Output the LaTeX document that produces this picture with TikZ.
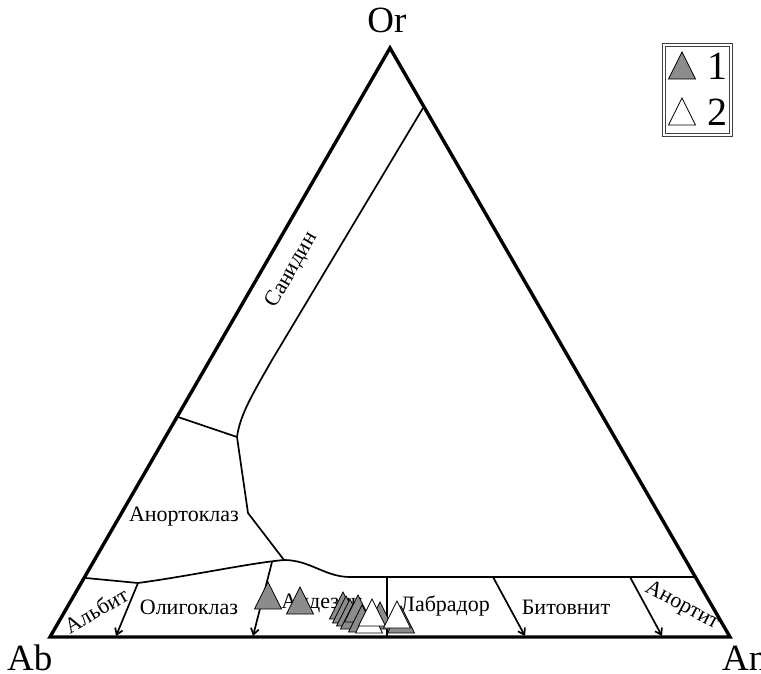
\documentclass[tikz,border=0pt]{standalone}
\usepackage{fontspec}
\setmainfont{Liberation Serif}
\usetikzlibrary{arrows.meta}
\definecolor{markgray}{gray}{0.55}

\begin{document}
\begin{tikzpicture}[x=1pt, y=-1pt, >={Straight Barb[length=6pt,width=8pt]},
                    outline/.style={line width=3.4pt, line join=miter},
                    border/.style={line width=1.7pt},
                    field/.style={font=\fontsize{22}{22}\selectfont, inner sep=0pt},
                    corner/.style={font=\fontsize{37}{37}\selectfont, inner sep=0pt},
                    digit/.style={font=\fontsize{40}{40}\selectfont, inner sep=0pt, anchor=base},
                    sample1/.pic={\draw[fill=markgray, line width=0.7pt] (-13.5,0) -- (0,-27) -- (13.5,0) -- cycle;},
                    sample2/.pic={\draw[fill=white, line width=0.7pt] (-13.5,0) -- (0,-27) -- (13.5,0) -- cycle;}]
\useasboundingbox (0,0) rectangle (761,673);

\coordinate (Ab) at (50,637);
\coordinate (An) at (730,637);
\coordinate (Or) at (390,48);
\coordinate (san) at (423,108);
\coordinate (tri) at (237,437);
\coordinate (ano) at (178,417);
\coordinate (top) at (284,560);
\coordinate (alb) at (86,578);
\coordinate (oli) at (138,583);
\coordinate (and) at (272,562);
\coordinate (ane) at (696,577);

\node[corner, anchor=base west] (ab) at (7,670) {Ab};
\node[corner, anchor=base west] (an) at (722,670) {An};
\node[corner, anchor=base] (or) at (387,32) {Or};

% boundaries
\draw[border] (san) -- (272,360) .. controls (252,395) and (240,415) .. (tri);
\draw[border] (ano) -- (tri) -- (248,513) -- (top);
\draw[border] (alb) -- (oli) .. controls (190,576) and (250,563) .. (top)
              .. controls (310,560) and (325,577) .. (350,577) -- (ane);
\draw[border,->] (oli) -- (116,636);
\draw[border,->] (and) -- (253,636);
\draw[border] (387,577) -- (387,637);
\draw[border,->] (493,577) -- (525,636);
\draw[border,->] (630,577) -- (662,636);

\node[field, rotate=60] (sanidin) at (292,270) {Санидин};
\node[field] (anortoklaz) at (184,517) {Анортоклаз};
\node[field, rotate=30] (albit) at (96,610) {Альбит};
\node[field] (oligoklaz) at (189,607) {Олигоклаз};
\node[field] (andezin) at (322,603) {Андезин};
\node[field] (labrador) at (445,606) {Лабрадор};
\node[field] (bitovnit) at (566,607) {Битовнит};
\node[field, rotate=-28] (anortit) at (682,606) {Анортит};

% samples
\foreach \x/\y in {268/609, 300/614, 343/619, 346/623, 350/626, 354/629, 358/622, 380/629, 401/633, 362/632}
  \pic at (\x,\y) {sample1};
\foreach \x/\y in {369/633, 372/626, 397/628}
  \pic at (\x,\y) {sample2};

\draw[outline] (Ab) -- (An) -- (Or) -- cycle;

% legend
\draw[black!75, line width=0.8pt] (662,43) rectangle (732,136);
\draw[black!75, line width=0.8pt] (665,46) rectangle (729,133);
\pic at (682,79) {sample1};
\pic at (682,125) {sample2};
\node[digit] (one) at (717,79) {1};
\node[digit] (two) at (717,125) {2};
\end{tikzpicture}
\end{document}
